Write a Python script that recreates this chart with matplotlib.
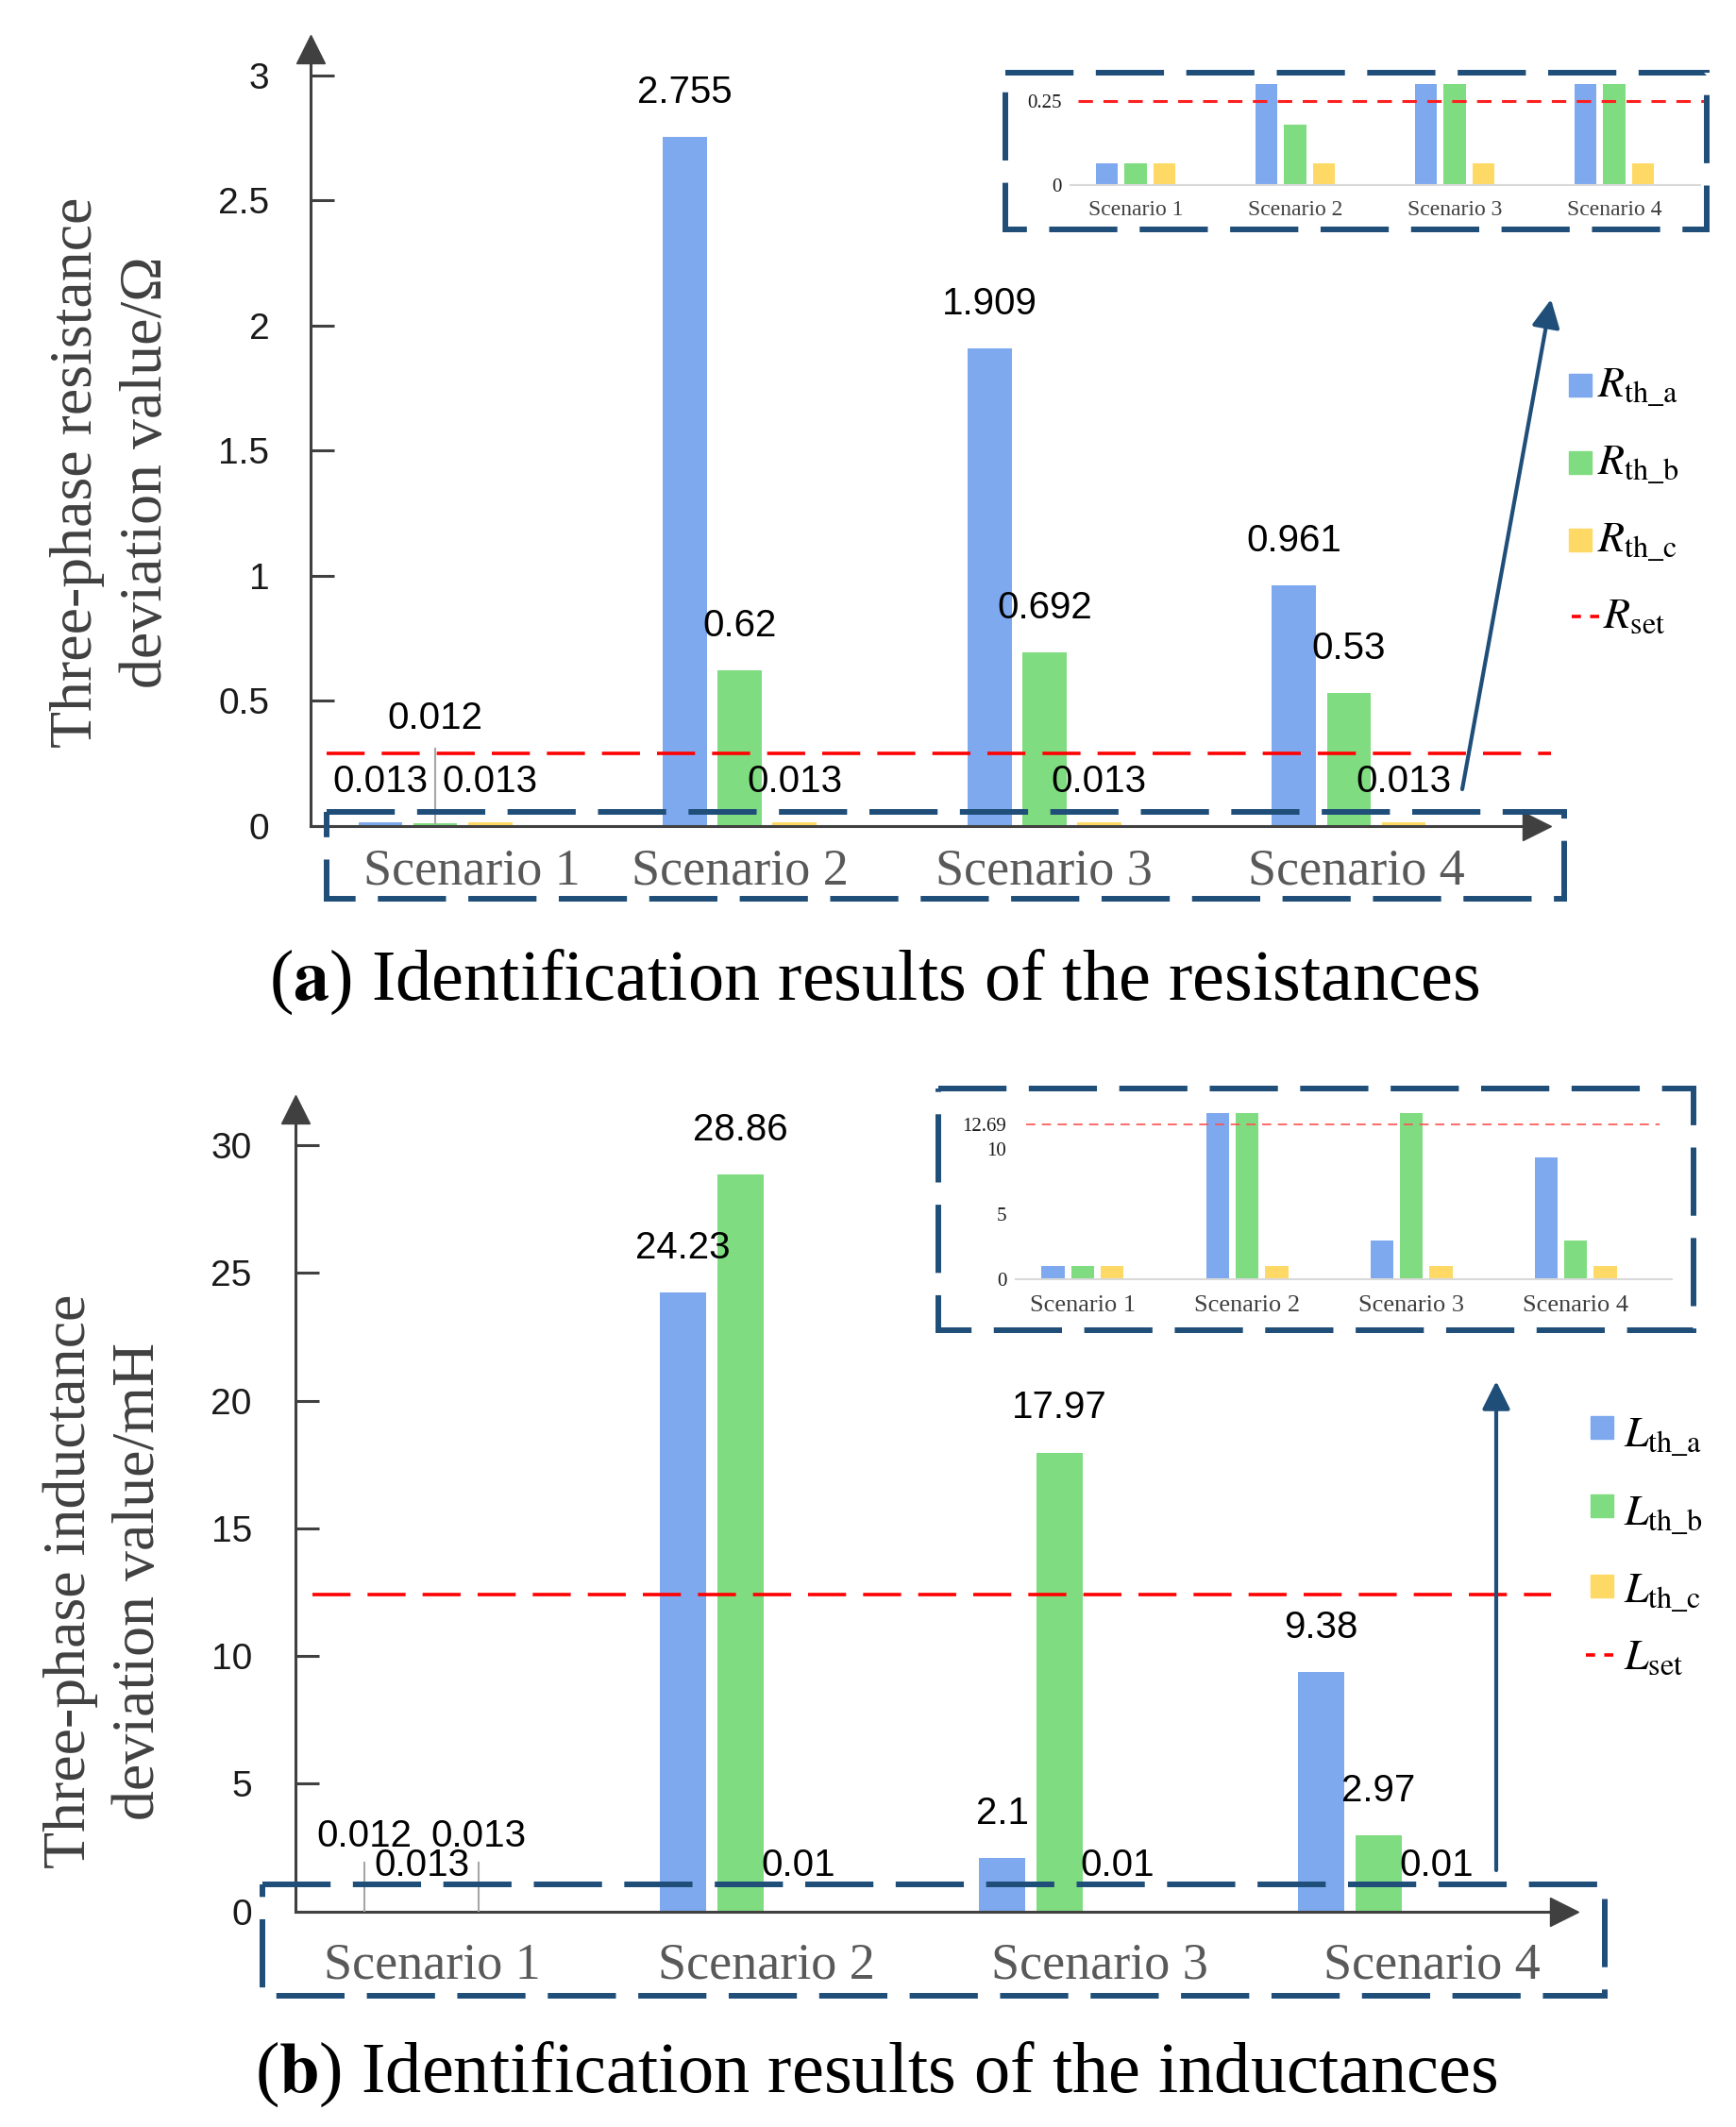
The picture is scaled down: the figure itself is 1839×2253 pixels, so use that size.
import numpy as np
import matplotlib
matplotlib.use("Agg")
import matplotlib.pyplot as plt
from matplotlib.patches import Rectangle

plt.rcParams['mathtext.fontset'] = 'stix'
plt.rcParams['lines.scale_dashes'] = False

scenarios = ["Scenario 1", "Scenario 2", "Scenario 3", "Scenario 4"]

# (a) resistance deviation / ohm
r_a = [0.013, 2.755, 1.909, 0.961]
r_b = [0.012, 0.62, 0.692, 0.53]
r_c = [0.013, 0.013, 0.013, 0.013]
r_set = 0.29
r_ticks = [0, 0.5, 1, 1.5, 2, 2.5, 3]
r_ticklabels = ["0", "0.5", "1", "1.5", "2", "2.5", "3"]

# (b) inductance deviation / mH
l_a = [0.012, 24.23, 2.1, 9.38]
l_b = [0.013, 28.86, 17.97, 2.97]
l_c = [0.013, 0.01, 0.01, 0.01]
l_set = 12.4
l_ticks = [0, 5, 10, 15, 20, 25, 30]

# zoomed insets, bars drawn as they appear (not to scale)
inset_r_a = [0.063, 0.30, 0.30, 0.30]
inset_r_b = [0.063, 0.18, 0.30, 0.30]
inset_r_c = [0.063, 0.063, 0.063, 0.063]
inset_r_set = 0.25
inset_r_ticks = [0, 0.25]
inset_r_ticklabels = ["0", "0.25"]

inset_l_a = [1.0, 12.75, 3.0, 9.35]
inset_l_b = [1.0, 12.75, 12.75, 3.0]
inset_l_c = [1.0, 1.0, 1.0, 1.0]
inset_l_set = 11.9
inset_l_ticks = [0, 5, 10, 11.9]
inset_l_ticklabels = ["0", "5", "10", "12.69"]

BLUE = '#7ea9ee'
GREEN = '#80dc80'
YELLOW = '#ffd966'
NAVY = '#1f4e79'
AXC = '#404040'
SANS = 'Liberation Sans'
SERIF = 'Liberation Serif'

W, H = 1839, 2253
fig = plt.figure(figsize=(W / 100, H / 100), dpi=100)


def px_axes(x0, y0, x1, y1):
    # box in pixels, y measured from the top
    return fig.add_axes([x0 / W, 1 - y1 / H, (x1 - x0) / W, (y1 - y0) / H])


def main_panel(ax, a, b, c, setval, ticks, ticklabels, xlim, ylim,
               red_span, label_shift, tick_pad, xlab_pad, tiny_y, raised):
    x = np.arange(len(scenarios))
    w, off = 0.145, 0.18
    series = [a, b, c]
    colors = [BLUE, GREEN, YELLOW]
    for k in range(3):
        ax.bar(x + (k - 1) * off, series[k], w, color=colors[k], zorder=2)
    # value labels
    for k in range(3):
        for i, v in enumerate(series[k]):
            xx = x[i] + (k - 1) * off
            if (i, k) in raised:
                ax.text(xx, raised[(i, k)][0], str(v), ha='center', va='center',
                        fontsize=29, family=SANS, zorder=5)
                ax.plot([xx, xx], [v, raised[(i, k)][1]], color='#a6a6a6',
                        lw=1.5, zorder=4)
            elif v < tiny_y * 0.5:
                ax.text(xx, tiny_y, str(v), ha='center', va='center',
                        fontsize=29, family=SANS, zorder=5)
            else:
                ax.annotate(str(v), (xx, v), xytext=(0, 34), textcoords='offset points',
                            ha='center', va='center', fontsize=29, family=SANS, zorder=5)
    ax.plot(red_span, [setval, setval], color='#ff0000', lw=2.6,
            dashes=(29, 13), clip_on=False, zorder=3)
    ax.set_xlim(*xlim)
    ax.set_ylim(*ylim)
    ax.set_yticks(ticks)
    ax.set_yticklabels(ticklabels, fontsize=28, family=SANS, color='#1a1a1a')
    ax.set_xticks(x + np.array(label_shift))
    ax.set_xticklabels(scenarios, fontsize=39, family=SERIF, color='#595959')
    ax.tick_params(axis='y', direction='in', length=18, width=2.2, color=AXC, pad=tick_pad)
    ax.tick_params(axis='x', length=0, pad=xlab_pad)
    for s in ['top', 'right']:
        ax.spines[s].set_visible(False)
    for s in ['left', 'bottom']:
        ax.spines[s].set_color(AXC)
        ax.spines[s].set_linewidth(2.2)
    ax.plot(1, 0, '>', color=AXC, ms=22, transform=ax.transAxes, clip_on=False)
    ax.plot(0, 1, '^', color=AXC, ms=22, transform=ax.transAxes, clip_on=False)
    ax.patch.set_visible(False)


def inset_panel(ax, a, b, c, setval, ticks, ticklabels, xlim, ylim, red_span,
                red_lw, red_dash, red_color, tick_fs, lab_fs, lab_pad):
    x = np.arange(len(scenarios))
    w, off = 0.14, 0.18
    for k, (vals, col) in enumerate(zip([a, b, c], [BLUE, GREEN, YELLOW])):
        ax.bar(x + (k - 1) * off, vals, w, color=col, zorder=2)
    ax.plot(red_span, [setval, setval], color=red_color, lw=red_lw,
            dashes=red_dash, clip_on=False, zorder=3)
    ax.set_xlim(*xlim)
    ax.set_ylim(*ylim)
    ax.set_yticks(ticks)
    ax.set_yticklabels(ticklabels, fontsize=tick_fs, family=SERIF, color='#1a1a1a')
    ax.set_xticks(x)
    ax.set_xticklabels(scenarios, fontsize=lab_fs, family=SERIF, color='#404040')
    ax.tick_params(axis='y', length=0, pad=7)
    ax.tick_params(axis='x', length=0, pad=lab_pad)
    for s in ['top', 'right', 'left']:
        ax.spines[s].set_visible(False)
    ax.spines['bottom'].set_color('#d9d9d9')
    ax.spines['bottom'].set_linewidth(1.5)
    ax.patch.set_visible(False)


# ---- panel (a)
ax1 = px_axes(328.5, 52, 1628, 874.7)
main_panel(ax1, r_a, r_b, r_c, r_set, r_ticks, r_ticklabels,
           (-0.411, 3.617), (0, 3.105), [-0.356, 3.664],
           [0.12, 0.0, 0.0, 0.025], 31, 17, 0.176,
           {(0, 1): (0.43, 0.31)})

# ---- panel (b)
ax2 = px_axes(312.7, 1175, 1657, 2024.6)
main_panel(ax2, l_a, l_b, l_c, l_set, l_ticks, [str(t) for t in l_ticks],
           (-0.396, 3.581), (0, 31.41), [-0.342, 3.539],
           [0.033, 0.08, 0.124, 0.166], 33, 23, 1.8,
           {(0, 0): (2.95, 1.9), (0, 2): (2.95, 1.9)})

# ---- insets
ins1 = px_axes(1134, 85, 1801, 195.7)
inset_panel(ins1, inset_r_a, inset_r_b, inset_r_c, inset_r_set, inset_r_ticks,
            inset_r_ticklabels, (-0.408, 3.538), (0, 0.311), [-0.36, 3.58],
            2.2, (11, 8), '#ff2020', 15, 17, 12)

ins2 = px_axes(1076, 1175, 1771, 1355)
inset_panel(ins2, inset_l_a, inset_l_b, inset_l_c, inset_l_set, inset_l_ticks,
            inset_l_ticklabels, (-0.408, 3.586), (0, 13.04), [-0.345, 3.51],
            1.2, (7, 5), '#ff5050', 15, 19, 12)

# ---- overlay for boxes, arrows, legends and captions (pixel coordinates)
ov = fig.add_axes([0, 0, 1, 1])
ov.set_xlim(0, W)
ov.set_ylim(H, 0)
ov.axis('off')
ov.patch.set_visible(False)
ov.set_zorder(10)

box_style = dict(fill=False, edgecolor=NAVY, lw=4.3, linestyle=(0, (52, 17)))
ov.add_patch(Rectangle((346, 860), 1657 - 346, 952 - 860, **box_style))
ov.add_patch(Rectangle((278, 1996), 1700 - 278, 2114 - 1996, **box_style))
ov.add_patch(Rectangle((1065, 77), 1808 - 1065, 243 - 77, **box_style))
ov.add_patch(Rectangle((994, 1153), 1794 - 994, 1409 - 1153, **box_style))

arrow_props = dict(arrowstyle='-|>', color=NAVY, lw=3, mutation_scale=45,
                   shrinkA=0, shrinkB=0)
ov.annotate('', xy=(1643, 317), xytext=(1549, 836), arrowprops=arrow_props)
ov.annotate('', xy=(1585, 1463), xytext=(1585, 1981), arrowprops=arrow_props)

# legends
leg_a = [r'$R_{\rm th\_a}$', r'$R_{\rm th\_b}$', r'$R_{\rm th\_c}$', r'$R_{\rm set}$']
leg_b = [r'$L_{\rm th\_a}$', r'$L_{\rm th\_b}$', r'$L_{\rm th\_c}$', r'$L_{\rm set}$']
for labels, sq_x, text_x, set_text_x, tops, baselines, dash_y, dash_x in [
        (leg_a, 1662, 1692, 1698, [396, 478, 560], [420, 502, 584, 665], 653, 1665),
        (leg_b, 1685, 1720, 1720, [1500, 1583, 1668], [1532, 1615, 1697, 1768], 1753, 1680)]:
    for j, col in enumerate([BLUE, GREEN, YELLOW]):
        ov.add_patch(Rectangle((sq_x, tops[j]), 24, 24, color=col))
        ov.text(text_x, baselines[j], labels[j], fontsize=33, va='baseline', ha='left')
    ov.plot([dash_x, dash_x + 29], [dash_y, dash_y], color='#ff0000', lw=2.6,
            dashes=(7, 7))
    ov.text(set_text_x, baselines[3], labels[3], fontsize=33, va='baseline', ha='left')

# axis titles
ov.text(82, 500, 'Three-phase resistance', rotation=90, ha='center', va='center',
        fontsize=46, family=SERIF, color=AXC)
ov.text(156, 500, 'deviation value/\u03a9', rotation=90, ha='center', va='center',
        fontsize=46, family=SERIF, color=AXC)
ov.text(75, 1675, 'Three-phase inductance', rotation=90, ha='center', va='center',
        fontsize=46, family=SERIF, color=AXC)
ov.text(148, 1675, 'deviation value/mH', rotation=90, ha='center', va='center',
        fontsize=46, family=SERIF, color=AXC)

# captions
ov.text(926, 1040, r'($\mathbf{a}$) Identification results of the resistances',
        ha='center', va='center', fontsize=55, family=SERIF)
ov.text(928, 2197, r'($\mathbf{b}$) Identification results of the inductances',
        ha='center', va='center', fontsize=55, family=SERIF)

fig.savefig('out.png', dpi=100, facecolor='white')
